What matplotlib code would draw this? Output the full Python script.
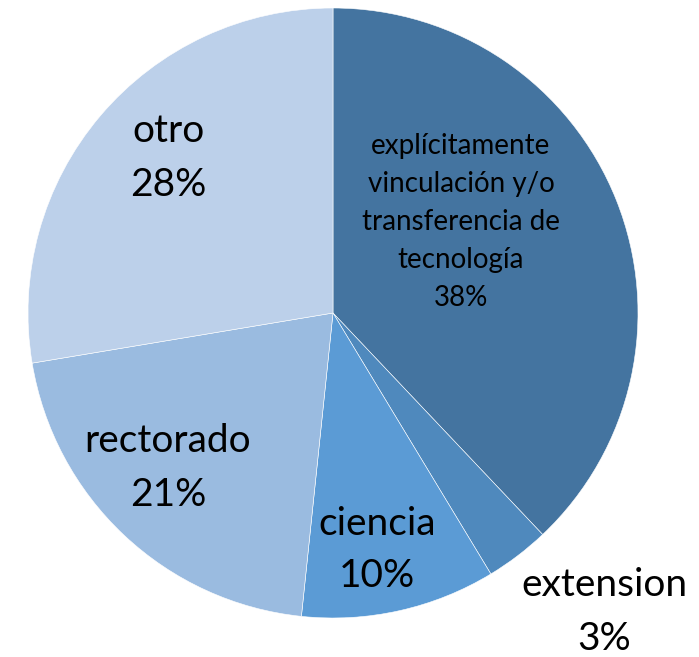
import matplotlib
matplotlib.use("Agg")
import matplotlib.pyplot as plt

categories = ["explícitamente\nvinculación y/o\ntransferencia de\ntecnología",
              "extension", "ciencia", "rectorado", "otro"]
values = [37.9, 3.4, 10.3, 20.7, 27.6]
colors = ["#4474A0", "#4F89BD", "#5B9BD5", "#9ABBE0", "#BCD0EA"]

# label centres in pixel coords (x, y from top) and font sizes
label_pos = [(461, 222), (604, 612), (377, 550), (168, 468), (168, 158)]
label_size = [20, 28, 28, 28, 28]
label_spacing = [1.58, 1.62, 1.55, 1.62, 1.62]

plt.rcParams['font.family'] = ['Lato', 'DejaVu Sans']

W, H = 699, 657
fig = plt.figure(figsize=(W / 100, H / 100), dpi=100)
ax = fig.add_axes([0, 0, 1, 1])

ax.pie(values, colors=colors, startangle=90, counterclock=False,
       center=(333, H - 313), radius=305, frame=True,
       wedgeprops=dict(edgecolor='white', linewidth=0.4))
ax.set_xlim(0, W)
ax.set_ylim(0, H)
ax.set_aspect('equal')
ax.axis('off')

total = sum(values)
for cat, v, (x, y), fs, ls in zip(categories, values, label_pos, label_size, label_spacing):
    txt = "%s\n%.0f%%" % (cat, v / total * 100)
    ax.text(x, H - y, txt, ha='center', va='center', fontsize=fs,
            linespacing=ls, color='black')

fig.savefig("out.png", dpi=100)
